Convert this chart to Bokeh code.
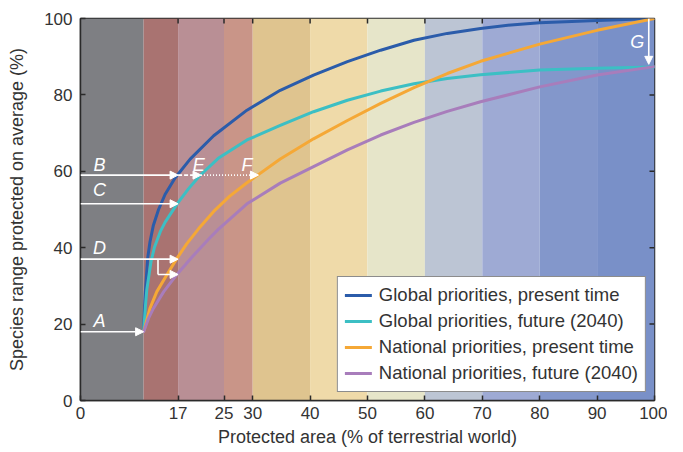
from bokeh.plotting import figure
from bokeh.models import (Range1d, FixedTicker, Arrow, NormalHead,
                          ColumnDataSource, Legend, LegendItem)
from bokeh.core.properties import value
from bokeh.embed import file_html
from bokeh.resources import INLINE

# ---------------- data ----------------
band_left = [0, 11, 17, 25, 30, 40, 50, 60, 70, 80, 90]
band_right = [11, 17, 25, 30, 40, 50, 60, 70, 80, 90, 100]
band_colors = ["#7e7f83", "#a97371", "#b98f95", "#c99588", "#dfc48f", "#efdaa9",
               "#e6e5c9", "#bcc5d4", "#9eaad4", "#8397cb", "#7990c8"]

x_ticks = [0, 17, 25, 30, 40, 50, 60, 70, 80, 90, 100]
y_ticks = [0, 20, 40, 60, 80, 100]

glob_now_x = [11, 11.15, 11.3, 11.7, 12.1, 12.7, 13.6, 14.75, 16.5, 19.1, 23.2, 29, 34.8,
              40.6, 46.5, 52.3, 58.1, 63.9, 69.7, 75, 80, 90, 100]
glob_now_y = [18, 24.1, 28.5, 37.2, 41.5, 45.9, 50.0, 54.0, 58.3, 63.2, 69.3, 76.0, 81.2,
              85.2, 88.7, 91.7, 94.3, 96.1, 97.4, 98.3, 98.9, 99.5, 100]

glob_fut_x = [11, 11.3, 11.55, 12.3, 12.9, 13.9, 14.75, 16.8, 18.8, 20.8, 24, 29, 34.8,
              40.6, 46.5, 52.3, 58.1, 63.9, 69.7, 80, 90, 100]
glob_fut_y = [18, 24.5, 29.0, 36.5, 40.2, 44.2, 46.7, 51.4, 55.4, 58.9, 63.4, 68.2, 72.0,
              75.6, 78.6, 81.0, 82.9, 84.3, 85.3, 86.5, 87.0, 87.3]

nat_now_x = [11, 12.1, 13.3, 15.0, 16.8, 18.5, 20.6, 23.2, 26, 29, 34.8, 40.6, 46.5, 52.3,
             58.1, 63.9, 69.7, 80, 90, 100]
nat_now_y = [18, 24.1, 28.5, 32.8, 37.2, 41.0, 45.0, 49.5, 53.5, 57.0, 63.2, 68.5, 73.3, 77.8,
             81.9, 85.6, 88.8, 93.3, 96.9, 100]

nat_fut_x = [11, 11.85, 12.7, 14.5, 16.8, 19.4, 22.3, 24, 29, 34.8, 40.6, 46.5, 52.3,
             58.1, 63.9, 69.7, 80, 90, 100]
nat_fut_y = [18, 21.5, 24.1, 28.5, 33.0, 37.5, 42.2, 44.8, 51.5, 56.9, 61.2, 65.6, 69.5,
             72.8, 75.7, 78.2, 82.1, 85.2, 87.4]

series_names = ["Global priorities, present time", "Global priorities, future (2040)",
                "National priorities, present time", "National priorities, future (2040)"]
series_colors = ["#2b5caa", "#3cbfc4", "#f5a836", "#a87dbb"]

# annotation arrows
arrow_x0 = [0, 0, 0, 0, 17, 21, 13.5, 99]
arrow_y0 = [18, 59, 51.5, 37, 59, 59, 33, 100]
arrow_x1 = [11, 17, 17, 17, 21, 31, 17, 99]
arrow_y1 = [18, 59, 51.5, 37, 59, 59, 33, 88]
arrow_dash = ["solid", "solid", "solid", "solid", "4 2", "1 2", "solid", "solid"]

bracket_x = [13.5, 13.5]
bracket_y = [37, 33]

letter_text = ["A", "B", "C", "D", "E", "F", "G"]
letter_x = [3.3, 3.3, 3.3, 3.3, 20.6, 29.0, 97.0]
letter_y = [20.8, 61.6, 55.0, 39.8, 61.6, 61.6, 93.8]

# ---------------- figure ----------------
FONT = "Liberation Sans"
TXT = "#333333"
DARK = "#2a2a2a"

p = figure(frame_width=574, frame_height=382, x_range=Range1d(0, 100), y_range=Range1d(0, 100),
           output_backend="svg", toolbar_location=None,
           min_border_left=80, min_border_right=13, min_border_top=18, min_border_bottom=8)
p.xgrid.visible = False
p.ygrid.visible = False
p.outline_line_color = DARK
p.outline_line_width = 1.5
p.border_fill_color = "white"

# bands
p.quad(left=band_left, right=band_right, bottom=0, top=100, fill_color=band_colors,
       line_color=None)

# mirrored ticks on top and right edges (inward)
p.ray(x=x_ticks[1:-1], y=y_ticks[-1], length=5, length_units="screen", angle=-90,
      angle_units="deg", line_color=DARK, line_width=1.5)
p.ray(x=x_ticks[-1], y=y_ticks[1:-1], length=5, length_units="screen", angle=180,
      angle_units="deg", line_color=DARK, line_width=1.5)

# curves
xs = [glob_now_x, glob_fut_x, nat_now_x, nat_fut_x]
ys = [glob_now_y, glob_fut_y, nat_now_y, nat_fut_y]
renderers = []
for x, y, c in zip(xs, ys, series_colors):
    r = p.line(x, y, line_color=c, line_width=3, line_join="round", line_cap="round")
    renderers.append(r)

# arrows
for xa, ya, xb, yb, d in zip(arrow_x0, arrow_y0, arrow_x1, arrow_y1, arrow_dash):
    p.add_layout(Arrow(x_start=xa, y_start=ya, x_end=xb, y_end=yb,
                       line_color="white", line_width=1.6, line_dash=d,
                       end=NormalHead(size=8, fill_color="white", line_color="white", line_width=1)))
p.line(bracket_x, bracket_y, line_color="white", line_width=1.6)

# letters
src = ColumnDataSource(dict(x=letter_x, y=letter_y, t=letter_text))
p.text(x="x", y="y", text="t", source=src, text_font=value(FONT), text_font_style="italic",
       text_font_size="18px", text_color="white", text_align="center", text_baseline="middle")

# axes
for ax in (p.xaxis[0], p.yaxis[0]):
    ax.major_tick_in = 5
    ax.major_tick_out = 0
    ax.minor_tick_in = 0
    ax.minor_tick_out = 0
    ax.major_tick_line_color = DARK
    ax.major_tick_line_width = 1.5
    ax.axis_line_color = DARK
    ax.axis_line_width = 1.5
    ax.major_label_text_font = FONT
    ax.major_label_text_font_size = "17px"
    ax.major_label_text_color = TXT
    ax.axis_label_text_font = FONT
    ax.axis_label_text_font_size = "18px"
    ax.axis_label_text_font_style = "normal"
    ax.axis_label_text_color = TXT

p.xaxis.ticker = FixedTicker(ticks=x_ticks)
p.yaxis.ticker = FixedTicker(ticks=y_ticks)
p.xaxis.axis_label = "Protected area (% of terrestrial world)"
p.yaxis.axis_label = "Species range protected on average (%)"
p.xaxis.major_label_standoff = 6
p.xaxis.axis_label_standoff = 5
p.yaxis.major_label_standoff = 8
p.yaxis.axis_label_standoff = 14

# legend
legend = Legend(items=[LegendItem(label=n, renderers=[r]) for n, r in zip(series_names, renderers)],
                location="bottom_right")
legend.margin = 8
legend.padding = 7
legend.spacing = 4
legend.label_height = 20
legend.glyph_height = 20
legend.glyph_width = 27
legend.label_standoff = 7
legend.label_text_font = FONT
legend.label_text_font_size = "18.5px"
legend.label_text_color = TXT
legend.border_line_color = "#1a1a1a"
legend.border_line_width = 1.5
legend.background_fill_color = "white"
legend.background_fill_alpha = 1.0
p.add_layout(legend)

open("out.html", "w").write(file_html(p, INLINE))
